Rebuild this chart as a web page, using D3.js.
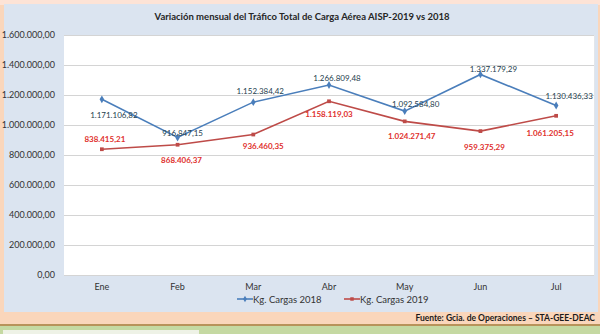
<!DOCTYPE html>
<html>
<head>
<meta charset="utf-8">
<script src="https://cdn.jsdelivr.net/npm/d3@7"></script>
<style>
  html, body { margin: 0; padding: 0; background: #fad6bb; }
  svg { display: block; }
  text { font-family: Lato, "Open Sans", sans-serif; }
</style>
</head>
<body>
<svg id="chart" width="600" height="334"></svg>
<script>
// Monthly totals of air cargo (kg)
const months = ["Ene", "Feb", "Mar", "Abr", "May", "Jun", "Jul"];
const cargas2018 = [1171106.82, 916847.15, 1152384.42, 1266809.48, 1092584.80, 1337179.29, 1130436.33];
const cargas2019 = [838415.21, 868406.37, 936460.35, 1158119.03, 1024271.47, 959375.29, 1061205.15];
const yTicks = [0, 200000, 400000, 600000, 800000, 1000000, 1200000, 1400000, 1600000];
const seriesNames = ["Kg. Cargas 2018", "Kg. Cargas 2019"];

const svg = d3.select("#chart");
const W = 600, H = 334;

// Spanish number format: 1.234.567,89
const locale = d3.formatLocale({ decimal: ",", thousands: ".", grouping: [3], currency: ["", ""] });
const fmt = locale.format(",.2f");

// Background frame
svg.append("rect").attr("x", 0).attr("y", 0).attr("width", W).attr("height", 5).attr("fill", "#fde3d6");
svg.append("rect").attr("x", 4).attr("y", 4).attr("width", 594).attr("height", 308).attr("fill", "#dbe4f0");
svg.append("rect").attr("x", 0).attr("y", 324).attr("width", W).attr("height", 2).attr("fill", "#b8935a");
svg.append("rect").attr("x", 0).attr("y", 326).attr("width", W).attr("height", 8).attr("fill", "#c5d9a2");
svg.append("rect").attr("x", 3).attr("y", 330).attr("width", 196).attr("height", 4).attr("fill", "#eef2e6");

const m = { left: 64, right: 6, top: 35, bottom: 59 };
const plotW = W - m.left - m.right;
const plotH = H - m.top - m.bottom;

const x = d3.scaleBand().domain(months).range([m.left, m.left + plotW]).padding(0);
const y = d3.scaleLinear().domain([0, 1600000]).range([m.top + plotH, m.top]);

// Plot area
svg.append("rect").attr("x", m.left).attr("y", m.top).attr("width", plotW).attr("height", plotH)
  .attr("fill", "#ffffff");
svg.append("line").attr("x1", m.left + plotW + 0.5).attr("x2", m.left + plotW + 0.5)
  .attr("y1", m.top).attr("y2", m.top + plotH).attr("stroke", "#e3e6ea");

// Gridlines + y labels
const yAxis = d3.axisLeft(y).tickValues(yTicks).tickSize(-plotW).tickPadding(9).tickFormat(fmt);
const gy = svg.append("g").attr("transform", `translate(${m.left},0)`).call(yAxis);
gy.select(".domain").remove();
gy.selectAll(".tick line").attr("stroke", "#d4d4d4").attr("stroke-width", 1);
gy.selectAll(".tick text").attr("fill", "#333").style("font-size", "9px").style("font-family", "Lato");

// x labels
const xAxis = d3.axisBottom(x).tickSize(0).tickPadding(9);
const gx = svg.append("g").attr("transform", `translate(0,${m.top + plotH})`).call(xAxis);
gx.select(".domain").remove();
gx.selectAll(".tick text").attr("fill", "#333").style("font-size", "9px").style("font-family", "Lato");

// Title
svg.append("text").attr("x", 302).attr("y", 20).attr("text-anchor", "middle")
  .style("font-size", "9.5px").style("font-weight", "bold").attr("fill", "#262626")
  .text("Variación mensual del Tráfico Total de Carga Aérea AISP-2019 vs 2018");

const cx = d => x(d) + x.bandwidth() / 2;

const series = [
  { name: seriesNames[0], values: cargas2018, color: "#4a7ebb", label: "#24404e", marker: "diamond",
    // label offsets relative to the point
    off: [[12, 16], [5, -4], [7, -11], [8, -7], [11, -7], [13, -5], [13, -9]] },
  { name: seriesNames[1], values: cargas2019, color: "#be4b48", label: "#e0302c", marker: "square",
    off: [[3, -10], [4, 15], [10, 11], [0, 13], [7, 15], [4, 16], [-6, 17]] }
];

const line = d3.line().x((d, i) => cx(months[i])).y(d => y(d));

series.forEach(s => {
  svg.append("path").datum(s.values).attr("d", line)
    .attr("fill", "none").attr("stroke", s.color).attr("stroke-width", 1.6);
});

series.forEach(s => {
  const sym = s.marker === "diamond" ? d3.symbolDiamond : d3.symbolSquare;
  svg.append("g").selectAll("path").data(s.values).join("path")
    .attr("transform", (d, i) => `translate(${cx(months[i])},${y(d)})`)
    .attr("d", d3.symbol().type(sym).size(s.marker === "diamond" ? 18 : 14))
    .attr("fill", s.color);
});

series.forEach(s => {
  svg.append("g").selectAll("text").data(s.values).join("text")
    .attr("x", (d, i) => cx(months[i]) + s.off[i][0])
    .attr("y", (d, i) => y(d) + s.off[i][1] + 3)
    .attr("text-anchor", "middle")
    .style("font-size", "8px")
    .style("font-weight", s.marker === "square" ? "bold" : "normal")
    .attr("fill", s.label)
    .text(d => fmt(d));
});

// Legend
const legendX = [237, 344];
series.forEach((s, i) => {
  const g = svg.append("g").attr("transform", `translate(${legendX[i]},299)`);
  g.append("line").attr("x1", 0).attr("x2", 16).attr("y1", 0).attr("y2", 0)
    .attr("stroke", s.color).attr("stroke-width", 1.6);
  g.append("path").attr("transform", "translate(8,0)")
    .attr("d", d3.symbol().type(s.marker === "diamond" ? d3.symbolDiamond : d3.symbolSquare).size(12))
    .attr("fill", s.color);
  g.append("text").attr("x", 16).attr("y", 3.5).style("font-size", "9.5px").attr("fill", "#333")
    .text(s.name);
});

// Source note
svg.append("text").attr("x", 595).attr("y", 321).attr("text-anchor", "end")
  .style("font-size", "8.5px").style("font-weight", "bold").attr("fill", "#1a1a1a")
  .text("Fuente: Gcia. de Operaciones – STA-GEE-DEAC");
</script>
</body>
</html>
